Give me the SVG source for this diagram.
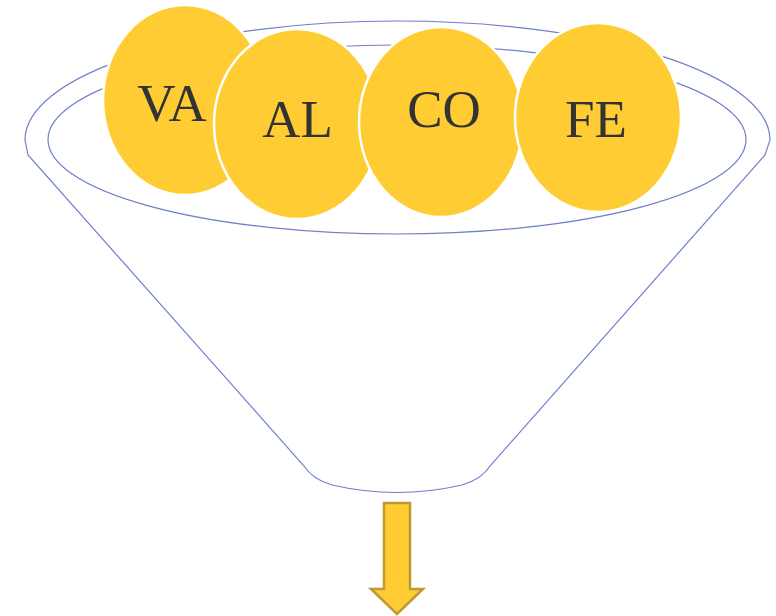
<svg xmlns="http://www.w3.org/2000/svg" width="776" height="616" viewBox="0 0 776 616">
<style>
.ln{fill:none;stroke:#6f7fcb;stroke-width:1.2}
.ball{fill:#ffcc33;stroke:#ffffff;stroke-width:2.5}
.lbl{font-family:"Liberation Serif","DejaVu Serif",serif;font-size:53px;fill:#333333;text-anchor:middle}
.arr{fill:#ffcc33;stroke:#bf9a2e;stroke-width:2.5;stroke-linejoin:miter}
</style>
<rect width="776" height="616" fill="#ffffff"/>
<g id="funnel">
<path class="ln" d="M28,155 L25,140 A372.5,119 0 0 1 770,140 L765,155 L490,466 Q482,479 462,485 Q397,500 332,485 Q312,479 304,466 Z"/>
<ellipse class="ln" cx="397" cy="139.5" rx="349" ry="94.5"/>
</g>
<g id="VA"><ellipse class="ball" cx="185" cy="100" rx="82" ry="95"/><text class="lbl" x="172" y="121">VA</text></g>
<g id="AL"><ellipse class="ball" cx="297" cy="124" rx="83" ry="95"/><text class="lbl" x="297.5" y="137">AL</text></g>
<g id="CO"><ellipse class="ball" cx="441" cy="122" rx="82" ry="95"/><text class="lbl" x="444" y="127">CO</text></g>
<g id="FE"><ellipse class="ball" cx="598" cy="117.5" rx="83" ry="94.5"/><text class="lbl" x="596" y="137">FE</text></g>
<g id="connectors">
<path class="arr" d="M384,503 L410,503 L410,589 L423,589 L397,614 L371,589 L384,589 Z"/>
</g>
</svg>
